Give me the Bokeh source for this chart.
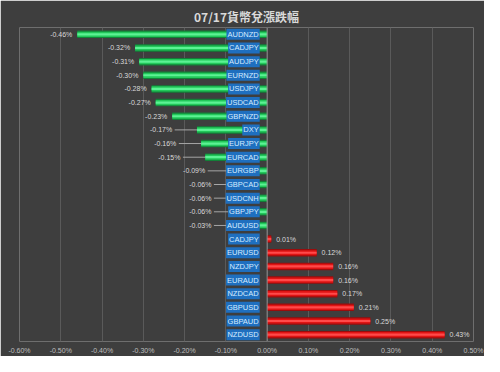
from bokeh.plotting import figure
from bokeh.models import Range1d, FixedTicker, CustomJSTickFormatter, Span
from bokeh.core.properties import value
from bokeh.embed import file_html
from bokeh.resources import INLINE

title_text = "07/17貨幣兌漲跌幅"
pairs = ["AUDNZD", "CADJPY", "AUDJPY", "EURNZD", "USDJPY", "USDCAD", "GBPNZD", "DXY",
         "EURJPY", "EURCAD", "EURGBP", "GBPCAD", "USDCNH", "GBPJPY", "AUDUSD",
         "CADJPY", "EURUSD", "NZDJPY", "EURAUD", "NZDCAD", "GBPUSD", "GBPAUD", "NZDUSD"]
changes = [-0.46, -0.32, -0.31, -0.30, -0.28, -0.27, -0.23, -0.17,
           -0.16, -0.15, -0.09, -0.06, -0.06, -0.06, -0.03,
           0.01, 0.12, 0.16, 0.16, 0.17, 0.21, 0.25, 0.43]
x_ticks = [-0.6, -0.5, -0.4, -0.3, -0.2, -0.1, 0.0, 0.1, 0.2, 0.3, 0.4, 0.5]

BG = "#3e3e3e"
n = len(pairs)
rows = list(range(n))

p = figure(width=484, height=356, output_backend="svg", toolbar_location=None,
           x_range=Range1d(-0.6, 0.5), y_range=Range1d(n - 0.5, -0.5),
           min_border_left=19, min_border_right=11, min_border_bottom=14, min_border_top=27)
p.background_fill_color = BG
p.border_fill_color = BG
p.outline_line_color = None

p.title.text = title_text
p.title.align = "center"
p.title.text_color = "#d9d9d9"
p.title.text_font = "Noto Sans CJK TC"
p.title.text_font_size = "12px"
p.title.text_font_style = "bold"
p.title.standoff = 6
p.title.offset = 0

p.yaxis.visible = False
p.ygrid.grid_line_color = None
p.xgrid.grid_line_color = "#5a5a5a"
p.xgrid.grid_line_width = 1
p.xaxis.ticker = FixedTicker(ticks=x_ticks)
p.xaxis.formatter = CustomJSTickFormatter(code="return tick.toFixed(2) + '%';")
p.xaxis.axis_line_color = None
p.xaxis.major_tick_line_color = None
p.xaxis.minor_tick_line_color = None
p.xaxis.major_tick_out = 0
p.xaxis.major_tick_in = 0
p.xaxis.minor_tick_out = 0
p.xaxis.major_label_text_color = "#bfbfbf"
p.xaxis.major_label_text_font = "Liberation Sans"
p.xaxis.major_label_text_font_size = "7px"
p.xaxis.major_label_standoff = 5

neg = [(r, v) for r, v in zip(rows, changes) if v < 0]
pos = [(r, v) for r, v in zip(rows, changes) if v >= 0]

def layered(items, colors):
    ys = [r for r, _ in items]
    vs = [v for _, v in items]
    for h, c in zip([0.55, 0.38, 0.16], colors):
        p.hbar(y=ys, left=0, right=vs, height=h, fill_color=c, line_color=None)

layered(neg, ["#128038", "#22c85a", "#5cf294"])
layered(pos, ["#9a0c0c", "#e01414", "#ff4a4a"])

p.add_layout(Span(location=0, dimension="height", line_color="#8c8c8c", line_width=1))

# value labels for negative values (with leader lines for small bars)
nl_x, nl_y, nl_t = [], [], []
ll_x0, ll_x1, ll_y = [], [], []
for r, v in neg:
    if v <= -0.2:
        lx = v - 0.012
    else:
        end = min(v, -0.075)
        lx = end - 0.06
        ll_x0.append(lx + 0.006)
        ll_x1.append(end)
        ll_y.append(r)
    nl_x.append(lx)
    nl_y.append(r)
    nl_t.append(f"{v:.2f}%")
p.segment(x0=ll_x0, y0=ll_y, x1=ll_x1, y1=ll_y, line_color="#a6a6a6", line_width=1)
p.text(x=nl_x, y=nl_y, text=nl_t, text_align="right", text_baseline="middle",
       text_color="#d9d9d9", text_font=value("Liberation Sans"), text_font_size="7px")

pl_x = [v + 0.012 for _, v in pos]
pl_y = [r for r, _ in pos]
pl_t = [f"{v:.2f}%" for _, v in pos]
p.text(x=pl_x, y=pl_y, text=pl_t, text_align="left", text_baseline="middle",
       text_color="#d9d9d9", text_font=value("Liberation Sans"), text_font_size="7px")

# category labels in blue boxes
p.text(x=[-0.018] * n, y=rows, text=pairs, text_align="right", text_baseline="middle",
       text_color="#d6ecff", text_font=value("Liberation Sans"), text_font_size="7.5px",
       background_fill_color="#1f6fbf", padding=1)

open("out.html", "w").write(file_html(p, INLINE))
